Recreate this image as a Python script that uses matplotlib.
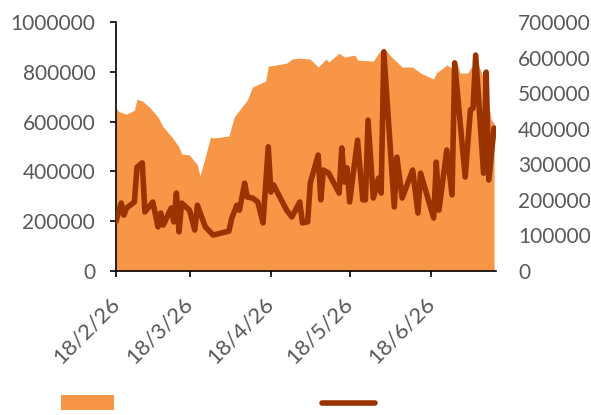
import numpy as np
import pandas as pd
import matplotlib
matplotlib.use("Agg")
import matplotlib.pyplot as plt
from matplotlib.patches import Patch
from matplotlib.lines import Line2D

# area series (left axis)
area_dates = ['2018-02-26', '2018-02-27', '2018-03-02', '2018-03-05', '2018-03-06',
              '2018-03-08', '2018-03-11', '2018-03-14', '2018-03-16', '2018-03-19',
              '2018-03-22', '2018-03-23', '2018-03-26', '2018-03-29', '2018-03-30',
              '2018-04-01', '2018-04-03', '2018-04-04', '2018-04-10', '2018-04-12',
              '2018-04-17', '2018-04-19', '2018-04-24', '2018-04-25', '2018-04-28',
              '2018-05-02', '2018-05-04', '2018-05-07', '2018-05-11', '2018-05-14',
              '2018-05-17', '2018-05-18', '2018-05-22', '2018-05-24', '2018-05-28',
              '2018-05-29', '2018-06-04', '2018-06-06', '2018-06-08', '2018-06-11',
              '2018-06-13', '2018-06-15', '2018-06-19', '2018-06-22', '2018-06-27',
              '2018-06-28', '2018-07-02', '2018-07-04', '2018-07-06', '2018-07-07',
              '2018-07-10', '2018-07-11', '2018-07-14', '2018-07-16', '2018-07-19',
              '2018-07-20']
area_vals = [655000, 640000, 630000, 646000, 690000,
             683000, 655000, 618000, 578000, 542000,
             498000, 470000, 466000, 426000, 382000,
             458000, 538000, 534000, 542000, 618000,
             687000, 739000, 763000, 823000, 827000,
             835000, 851000, 855000, 851000, 819000,
             851000, 839000, 875000, 859000, 867000,
             847000, 843000, 875000, 896000, 859000,
             839000, 819000, 819000, 795000, 771000,
             795000, 827000, 815000, 835000, 795000,
             795000, 815000, 827000, 775000, 606000,
             594000]

# line series (right axis)
line_dates = ['2018-02-26', '2018-02-28', '2018-03-01', '2018-03-02', '2018-03-05',
              '2018-03-06', '2018-03-08', '2018-03-09', '2018-03-12', '2018-03-14',
              '2018-03-15', '2018-03-16', '2018-03-19', '2018-03-20', '2018-03-21',
              '2018-03-22', '2018-03-23', '2018-03-26', '2018-03-28', '2018-03-29',
              '2018-04-01', '2018-04-04', '2018-04-10', '2018-04-11', '2018-04-13',
              '2018-04-14', '2018-04-16', '2018-04-17', '2018-04-19', '2018-04-21',
              '2018-04-23', '2018-04-25', '2018-04-26', '2018-04-27', '2018-05-02',
              '2018-05-04', '2018-05-07', '2018-05-08', '2018-05-10', '2018-05-11',
              '2018-05-14', '2018-05-15', '2018-05-16', '2018-05-18', '2018-05-22',
              '2018-05-23', '2018-05-24', '2018-05-25', '2018-05-26', '2018-05-29',
              '2018-05-31', '2018-06-01', '2018-06-02', '2018-06-04', '2018-06-06',
              '2018-06-07', '2018-06-08', '2018-06-12', '2018-06-13', '2018-06-15',
              '2018-06-19', '2018-06-21', '2018-06-22', '2018-06-27', '2018-06-28',
              '2018-06-29', '2018-07-02', '2018-07-04', '2018-07-05', '2018-07-09',
              '2018-07-11', '2018-07-12', '2018-07-13', '2018-07-16', '2018-07-17',
              '2018-07-18', '2018-07-20']
line_vals = [140000, 191000, 157000, 177000, 194000,
             292000, 304000, 166000, 194000, 124000,
             163000, 129000, 177000, 138000, 219000,
             110000, 191000, 171000, 115000, 185000,
             124000, 101000, 112000, 146000, 185000,
             171000, 247000, 208000, 205000, 194000,
             135000, 349000, 222000, 242000, 171000,
             152000, 194000, 135000, 138000, 247000,
             326000, 200000, 284000, 275000, 219000,
             346000, 250000, 290000, 194000, 368000,
             200000, 200000, 424000, 205000, 261000,
             219000, 616000, 180000, 320000, 205000,
             284000, 163000, 275000, 149000, 306000,
             171000, 340000, 214000, 585000, 264000,
             453000, 458000, 607000, 275000, 559000,
             256000, 402000]

left_ticks = [0, 200000, 400000, 600000, 800000, 1000000]
right_ticks = [0, 100000, 200000, 300000, 400000, 500000, 600000, 700000]
x_ticks = ['2018-02-26', '2018-03-26', '2018-04-26', '2018-05-26', '2018-06-26']

area_color = '#F79646'
line_color = '#993300'
text_color = '#595959'

plt.rcParams['font.family'] = ['Lato', 'DejaVu Sans']

fig = plt.figure(figsize=(5.91, 4.15), dpi=100, facecolor='white')
ax = fig.add_axes([0.1963, 0.347, 0.643, 0.6])
ax2 = ax.twinx()

ax.fill_between(pd.to_datetime(area_dates), 0, area_vals, color=area_color, lw=0)
ax2.plot(pd.to_datetime(line_dates), line_vals, color=line_color, lw=4,
         solid_joinstyle='round', solid_capstyle='round')

ax.set_xlim(pd.Timestamp('2018-02-26'), pd.Timestamp('2018-07-20 18:00'))
ax.set_ylim(0, 1000000)
ax2.set_ylim(0, 700000)

ax.set_yticks(left_ticks)
ax.set_yticklabels([str(v) for v in left_ticks])
ax2.set_yticks(right_ticks)
ax2.set_yticklabels([str(v) for v in right_ticks])
ax.set_xticks(pd.to_datetime(x_ticks))
ax.set_xticklabels([pd.Timestamp(d).strftime('%y/%-m/%d') for d in x_ticks],
                   rotation=45, ha='right', va='center', rotation_mode='anchor')

for s in ['top', 'right']:
    ax.spines[s].set_visible(False)
for s in ax2.spines.values():
    s.set_visible(False)
ax.spines['left'].set_color('black')
ax.spines['bottom'].set_color('black')
ax.spines['left'].set_linewidth(1.2)
ax.spines['bottom'].set_linewidth(1.2)

ax.tick_params(axis='y', direction='out', length=4, width=1.2, pad=11,
               labelsize=15, labelcolor=text_color)
ax.tick_params(axis='x', direction='out', length=4, width=1.2, pad=17,
               labelsize=16, labelcolor=text_color)
ax2.tick_params(axis='y', length=0, pad=16, labelsize=15, labelcolor=text_color)

handles = [Patch(facecolor=area_color, edgecolor='none'),
           Line2D([0], [0], color=line_color, lw=4, solid_capstyle='round')]
fig.legend(handles, ['', ''], loc='center left', bbox_to_anchor=(0.071, 0.027),
           ncol=2, frameon=False, fontsize=15, handlelength=2.55,
           handletextpad=0.0, columnspacing=10.0)

fig.savefig('out.png', dpi=100, facecolor='white')
